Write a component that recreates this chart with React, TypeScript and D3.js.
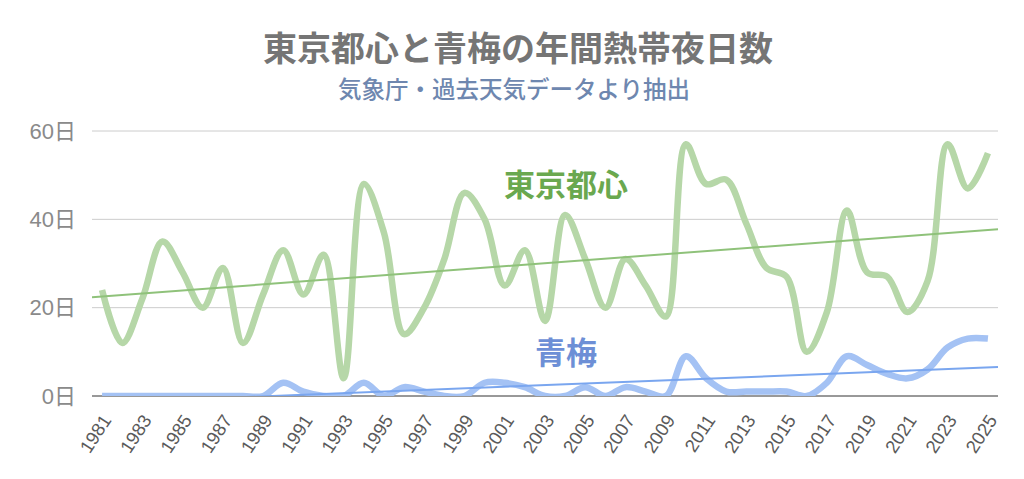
import React, { useRef, useEffect } from "react";
import * as d3 from "d3";

// 年ごとの熱帯夜日数
const years = [
  1981, 1982, 1983, 1984, 1985, 1986, 1987, 1988, 1989, 1990,
  1991, 1992, 1993, 1994, 1995, 1996, 1997, 1998, 1999, 2000,
  2001, 2002, 2003, 2004, 2005, 2006, 2007, 2008, 2009, 2010,
  2011, 2012, 2013, 2014, 2015, 2016, 2017, 2018, 2019, 2020,
  2021, 2022, 2023, 2024, 2025,
];

const tokyo = [
  24, 12, 22, 35, 28, 20, 29, 12, 23, 33,
  23, 32, 4, 48, 37, 14, 20, 31, 46, 40,
  25, 33, 17, 41, 31, 20, 31, 25, 18, 57,
  48, 49, 39, 29, 27, 10, 19, 42, 28, 27,
  19, 26, 57, 47, 55,
];

const ome = [
  0, 0, 0, 0, 0, 0, 0, 0, 0, 3,
  1, 0, 0, 3, 0, 2, 1, 0, 0, 3,
  3, 2, 0, 0, 2, 0, 2, 1, 0, 9,
  4, 1, 1, 1, 1, 0, 3, 9, 7, 5,
  4, 6, 11, 13, 13,
];

const yTicks = [0, 20, 40, 60];

const FONT = "'Liberation Sans', Arial, 'Noto Sans CJK JP', sans-serif";

// 最小二乗法の近似直線
const fitLine = (values) => {
  const n = values.length;
  const mx = (n - 1) / 2;
  const my = d3.mean(values);
  let sxy = 0;
  let sxx = 0;
  values.forEach((v, i) => {
    sxy += (i - mx) * (v - my);
    sxx += (i - mx) * (i - mx);
  });
  const slope = sxy / sxx;
  return (i) => my + slope * (i - mx);
};

const App = () => {
  const svgRef = useRef(null);

  useEffect(() => {
    const width = 1024;
    const height = 479;
    const plot = { left: 92, right: 998, top: 131, bottom: 396 };

    const svg = d3.select(svgRef.current).attr("width", width).attr("height", height);
    svg.selectAll("*").remove();

    const x = d3
      .scalePoint()
      .domain(years.map(String))
      .range([plot.left, plot.right])
      .padding(0.5);
    const xi = d3
      .scaleLinear()
      .domain([0, years.length - 1])
      .range([x(String(years[0])), x(String(years[years.length - 1]))]);
    const y = d3.scaleLinear().domain([0, 60]).range([plot.bottom, plot.top]);

    const defs = svg.append("defs");
    defs
      .append("clipPath")
      .attr("id", "plot-clip")
      .append("rect")
      .attr("x", plot.left)
      .attr("y", plot.top - 10)
      .attr("width", plot.right - plot.left)
      .attr("height", plot.bottom - plot.top + 10);
    defs
      .append("clipPath")
      .attr("id", "trend-clip")
      .append("rect")
      .attr("x", plot.left)
      .attr("y", plot.top)
      .attr("width", plot.right - plot.left)
      .attr("height", plot.bottom - plot.top);

    // タイトル
    svg
      .append("text")
      .attr("x", 518)
      .attr("y", 49)
      .attr("text-anchor", "middle")
      .attr("dominant-baseline", "central")
      .attr("font-family", FONT)
      .attr("font-size", 34)
      .attr("font-weight", "bold")
      .attr("fill", "#757575")
      .text("東京都心と青梅の年間熱帯夜日数");

    svg
      .append("text")
      .attr("x", 514)
      .attr("y", 90)
      .attr("text-anchor", "middle")
      .attr("dominant-baseline", "central")
      .attr("font-family", FONT)
      .attr("font-size", 23.5)
      .attr("font-weight", 500)
      .attr("fill", "#6e87af")
      .text("気象庁・過去天気データより抽出");

    // グリッド
    svg
      .append("g")
      .selectAll("line")
      .data(yTicks.filter((t) => t > 0))
      .enter()
      .append("line")
      .attr("x1", plot.left)
      .attr("x2", plot.right)
      .attr("y1", (d) => y(d))
      .attr("y2", (d) => y(d))
      .attr("stroke", "#cccccc")
      .attr("stroke-width", 1);

    svg
      .append("g")
      .selectAll("text")
      .data(yTicks)
      .enter()
      .append("text")
      .attr("x", 76)
      .attr("y", (d) => y(d))
      .attr("text-anchor", "end")
      .attr("dominant-baseline", "central")
      .attr("font-family", FONT)
      .attr("font-size", 22)
      .attr("fill", "#8a8a8a")
      .text((d) => `${d}日`);

    svg
      .append("line")
      .attr("x1", plot.left)
      .attr("x2", plot.right)
      .attr("y1", y(0))
      .attr("y2", y(0))
      .attr("stroke", "#333333")
      .attr("stroke-width", 1);

    // 年ラベル（1年おき）
    svg
      .append("g")
      .selectAll("text")
      .data(years.filter((d, i) => i % 2 === 0))
      .enter()
      .append("text")
      .attr("transform", (d) => `translate(${x(String(d)) + 10},${plot.bottom + 24}) rotate(-57)`)
      .attr("text-anchor", "end")
      .attr("font-family", FONT)
      .attr("font-size", 18.5)
      .attr("fill", "#5a5a5a")
      .text((d) => d);

    const curve = d3
      .line()
      .x((d, i) => x(String(years[i])))
      .y((d) => y(d))
      .curve(d3.curveCatmullRom.alpha(0.5));

    const lines = svg.append("g").attr("clip-path", "url(#plot-clip)");

    lines
      .append("path")
      .datum(tokyo)
      .attr("fill", "none")
      .attr("stroke", "#b6d7a8")
      .attr("stroke-width", 6.5)
      .attr("stroke-linejoin", "round")
      .attr("d", curve);

    lines
      .append("path")
      .datum(ome)
      .attr("fill", "none")
      .attr("stroke", "#a4c2f4")
      .attr("stroke-width", 6.5)
      .attr("stroke-linejoin", "round")
      .attr("d", curve);

    // 近似直線
    const trends = svg.append("g").attr("clip-path", "url(#trend-clip)");
    [
      { values: tokyo, color: "#8fc27a" },
      { values: ome, color: "#7aa6ef" },
    ].forEach(({ values, color }) => {
      const f = fitLine(values);
      const ends = [-0.5, values.length - 0.5];
      trends
        .append("line")
        .attr("x1", xi(ends[0]))
        .attr("x2", xi(ends[1]))
        .attr("y1", y(f(ends[0])))
        .attr("y2", y(f(ends[1])))
        .attr("stroke", color)
        .attr("stroke-width", 2);
    });

    // 系列ラベル
    svg
      .append("text")
      .attr("x", 566)
      .attr("y", 185)
      .attr("text-anchor", "middle")
      .attr("dominant-baseline", "central")
      .attr("font-family", FONT)
      .attr("font-size", 31)
      .attr("font-weight", "bold")
      .attr("fill", "#6aa84f")
      .text("東京都心");

    svg
      .append("text")
      .attr("x", 566)
      .attr("y", 353)
      .attr("text-anchor", "middle")
      .attr("dominant-baseline", "central")
      .attr("font-family", FONT)
      .attr("font-size", 31)
      .attr("font-weight", "bold")
      .attr("fill", "#6d8fd6")
      .text("青梅");

    return () => {
      svg.selectAll("*").remove();
    };
  }, []);

  return <svg ref={svgRef} style={{ position: "absolute", left: 0, top: 0 }}></svg>;
};

export default App;
